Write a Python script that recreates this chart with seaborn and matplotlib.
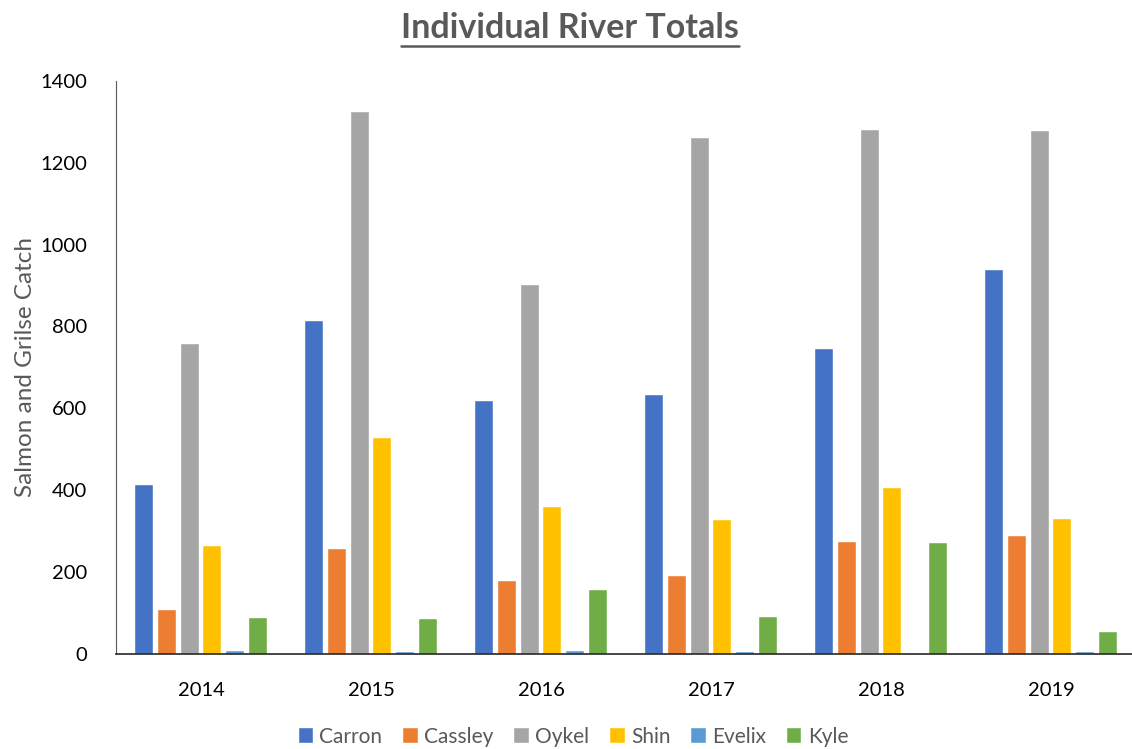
import matplotlib.pyplot as plt
import seaborn as sns
import pandas as pd
from matplotlib.lines import Line2D

# catch per river and year
years = ['2014', '2015', '2016', '2017', '2018', '2019']
carron = [413, 813, 618, 632, 745, 938]
cassley = [107, 256, 178, 190, 273, 288]
oykel = [757, 1324, 901, 1260, 1280, 1277]
shin = [264, 527, 359, 327, 405, 330]
evelix = [7, 4, 7, 4, 0, 5]
kyle = [88, 86, 156, 90, 271, 53]

rivers = ['Carron', 'Cassley', 'Oykel', 'Shin', 'Evelix', 'Kyle']
colours = ['#4472C4', '#ED7D31', '#A5A5A5', '#FFC000', '#5B9BD5', '#70AD47']

rows = []
for name, vals in zip(rivers, [carron, cassley, oykel, shin, evelix, kyle]):
    for yr, v in zip(years, vals):
        rows.append({'Year': yr, 'River': name, 'Catch': v})
df = pd.DataFrame(rows)

sns.set_style('white')
plt.rcParams['font.family'] = ['Lato', 'DejaVu Sans']

fig = plt.figure(figsize=(11.32, 7.49), dpi=100)
ax = fig.add_axes([0.1025, 0.127, 0.901, 0.765])

sns.barplot(data=df, x='Year', y='Catch', hue='River', hue_order=rivers,
            palette=colours, order=years, errorbar=None, width=0.8, gap=0.2,
            edgecolor='white', linewidth=0.3, saturation=1, ax=ax)

ax.set_ylim(0, 1400)
ax.set_xlim(-0.5, 5.5)
ax.set_yticks(range(0, 1401, 200))
ax.tick_params(axis='both', length=0, labelsize=14.5, colors='#000000')
ax.tick_params(axis='y', pad=21)
ax.tick_params(axis='x', pad=20)
ax.set_xlabel('')
ax.set_ylabel('Salmon and Grilse Catch', fontsize=17.5, color='#595959', labelpad=3)

for s in ['top', 'right']:
    ax.spines[s].set_visible(False)
ax.spines['left'].set_color('#595959')
ax.spines['bottom'].set_color('#262626')
ax.spines['bottom'].set_linewidth(1.2)

sns.move_legend(ax, 'lower center', bbox_to_anchor=(0.5065, -0.022),
                bbox_transform=fig.transFigure, ncol=6, frameon=False, title=None,
                fontsize=15, handlelength=0.7, handleheight=0.7, handletextpad=0.3,
                columnspacing=1.0, labelcolor='#595959')

title = fig.text(0.5035, 0.962, 'Individual River Totals', ha='center', va='center',
                 fontsize=24.5, fontweight='bold', color='#595959')

# underline the title
fig.canvas.draw()
bb = title.get_window_extent().transformed(fig.transFigure.inverted())
fig.add_artist(Line2D([bb.x0, bb.x1], [bb.y0 - 0.002, bb.y0 - 0.002],
                      transform=fig.transFigure, color='#595959', linewidth=1.8))

fig.savefig('out.png', dpi=100)
